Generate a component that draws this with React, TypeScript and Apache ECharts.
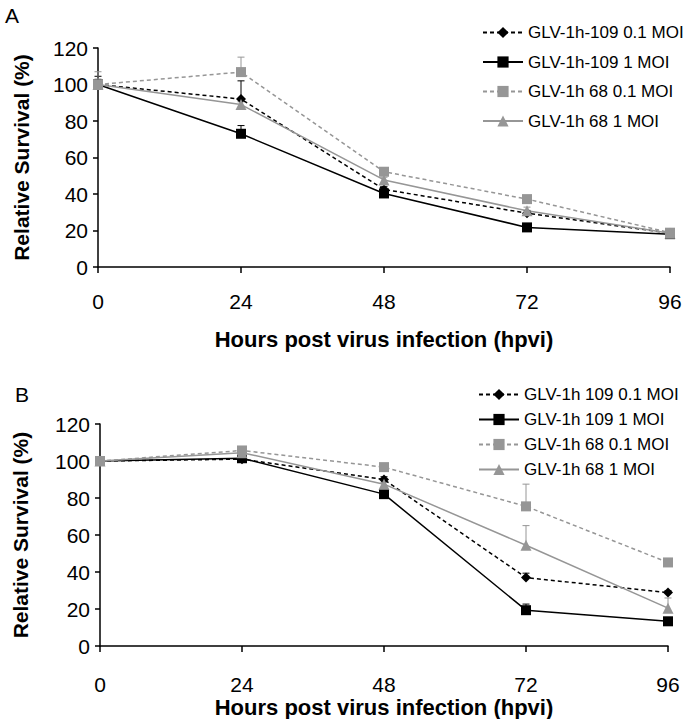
import React, { useEffect, useRef } from "react";
import * as echarts from "echarts";

const hours = [0, 24, 48, 72, 96];
const yTicks = [0, 20, 40, 60, 80, 100, 120];

const namesA = ["GLV-1h-109 0.1 MOI", "GLV-1h-109 1 MOI", "GLV-1h 68 0.1 MOI", "GLV-1h 68 1 MOI"];
const namesB = ["GLV-1h 109 0.1 MOI", "GLV-1h 109 1 MOI", "GLV-1h 68 0.1 MOI", "GLV-1h 68 1 MOI"];

// Panel A values
const a109low = [100, 92, 42.5, 29.5, 18.5];
const a109high = [100, 73, 40.3, 21.7, 18];
const a68low = [100, 106.8, 52.2, 37.2, 18.8];
const a68high = [100, 89, 47.7, 30.8, 18.5];
// Panel A upper error
const a109lowErr = [4.5, 10, 1.5, 1.5, 0.5];
const a109highErr = [1, 4.5, 1, 1, 0.5];
const a68lowErr = [7, 8.2, 1.5, 1, 0.5];
const a68highErr = [3, 1.5, 1.5, 2, 0.5];

// Panel B values
const b109low = [100, 101, 90, 37, 28.9];
const b109high = [100, 101.5, 82.1, 19.4, 13.4];
const b68low = [100, 105.7, 96.7, 75.5, 45.2];
const b68high = [100, 104.5, 87.5, 54.5, 20.5];
// Panel B upper error
const b109lowErr = [0.5, 1, 1.5, 2.4, 1];
const b109highErr = [0.5, 1, 1, 3.3, 0.5];
const b68lowErr = [0.5, 1.5, 0.5, 12, 0.5];
const b68highErr = [0.5, 1.5, 1, 10.6, 5.5];

const GRAY = "#969696";
const FONT = "Liberation Sans";

const styles = [
  { color: "#000", type: [4, 3], symbol: "diamond", size: 10 },
  { color: "#000", type: "solid", symbol: "rect", size: 10 },
  { color: GRAY, type: [4, 3], symbol: "rect", size: 10 },
  { color: GRAY, type: "solid", symbol: "triangle", size: 11 },
];

function lineSeries(name: string, vals: number[], i: number, axis: number) {
  const s = styles[i];
  return {
    type: "line",
    name,
    xAxisIndex: axis,
    yAxisIndex: axis,
    data: hours.map((h, k) => [h, vals[k]]),
    symbol: s.symbol,
    symbolSize: s.size,
    showAllSymbol: true,
    lineStyle: { color: s.color, width: 1.5, type: s.type },
    itemStyle: { color: s.color },
    z: 3,
  };
}

function errSeries(vals: number[], errs: number[], i: number, axis: number) {
  const color = styles[i].color;
  return {
    type: "custom",
    xAxisIndex: axis,
    yAxisIndex: axis,
    silent: true,
    z: 2,
    encode: { x: 0, y: [1, 2] },
    data: hours.map((h, k) => [h, vals[k], vals[k] + errs[k]]),
    renderItem: (params: any, api: any) => {
      const p1 = api.coord([api.value(0), api.value(1)]);
      const p2 = api.coord([api.value(0), api.value(2)]);
      return {
        type: "group",
        children: [
          { type: "line", shape: { x1: p1[0], y1: p1[1], x2: p2[0], y2: p2[1] }, style: { stroke: color, lineWidth: 1 } },
          { type: "line", shape: { x1: p2[0] - 3.5, y1: p2[1], x2: p2[0] + 3.5, y2: p2[1] }, style: { stroke: color, lineWidth: 1 } },
        ],
      };
    },
  };
}

function xAxis(grid: number, margin: number, gap: number) {
  return {
    type: "value",
    gridIndex: grid,
    min: 0,
    max: 96,
    interval: 24,
    name: "Hours post virus infection (hpvi)",
    nameLocation: "middle",
    nameGap: gap,
    nameTextStyle: { fontFamily: FONT, fontSize: 22, fontWeight: "bold", color: "#000" },
    axisLine: { lineStyle: { color: "#000", width: 1.5 } },
    axisTick: { show: true, length: 6, lineStyle: { color: "#000", width: 1.5 } },
    axisLabel: { fontFamily: FONT, fontSize: 21, color: "#000", margin },
    splitLine: { show: false },
  };
}

function yAxis(grid: number, gap: number) {
  return {
    type: "value",
    gridIndex: grid,
    min: yTicks[0],
    max: yTicks[yTicks.length - 1],
    interval: 20,
    name: "Relative Survival (%)",
    nameLocation: "middle",
    nameGap: gap,
    nameTextStyle: { fontFamily: FONT, fontSize: 21, fontWeight: "bold", color: "#000" },
    axisLine: { show: true, lineStyle: { color: "#000", width: 1.5 } },
    axisTick: { show: true, length: 5, lineStyle: { color: "#000", width: 1.5 } },
    axisLabel: { fontFamily: FONT, fontSize: 21, color: "#000", margin: 10 },
    splitLine: { show: false },
  };
}

export default function App() {
  const ref = useRef<HTMLDivElement>(null);
  useEffect(() => {
    if (!ref.current) return;
    const chart = echarts.init(ref.current, null, { renderer: "svg" });
    const seriesA = [a109low, a109high, a68low, a68high];
    const errA = [a109lowErr, a109highErr, a68lowErr, a68highErr];
    const seriesB = [b109low, b109high, b68low, b68high];
    const errB = [b109lowErr, b109highErr, b68lowErr, b68highErr];
    const series: any[] = [];
    seriesA.forEach((v, i) => series.push(errSeries(v, errA[i], i, 0)));
    seriesB.forEach((v, i) => series.push(errSeries(v, errB[i], i, 1)));
    seriesA.forEach((v, i) => series.push(lineSeries(namesA[i], v, i, 0)));
    seriesB.forEach((v, i) => series.push(lineSeries(namesB[i], v, i, 1)));

    const legendCommon = {
      orient: "vertical",
      itemWidth: 40,
      itemHeight: 14,
      textStyle: { fontFamily: FONT, fontSize: 17, color: "#000" },
      selectedMode: false,
    };

    chart.setOption({
      animation: false,
      backgroundColor: "#fff",
      grid: [
        { left: 98, top: 48, right: 20, height: 219 },
        { left: 100, top: 424, right: 22, height: 224 },
      ],
      xAxis: [xAxis(0, 24, 61), xAxis(1, 28, 46)],
      yAxis: [yAxis(0, 66), yAxis(1, 69)],
      legend: [
        { ...legendCommon, left: 477, top: 19, itemGap: 12.5, data: namesA },
        { ...legendCommon, left: 473, top: 381, itemGap: 8, data: namesB },
      ],
      graphic: [
        { type: "text", left: 5, top: 5, style: { text: "A", fontFamily: FONT, fontSize: 21, fill: "#000" } },
        { type: "text", left: 15, top: 384, style: { text: "B", fontFamily: FONT, fontSize: 21, fill: "#000" } },
      ],
      series,
    });
    return () => chart.dispose();
  }, []);
  return <div ref={ref} style={{ width: 690, height: 719, position: "absolute", left: 0, top: 0 }} />;
}
